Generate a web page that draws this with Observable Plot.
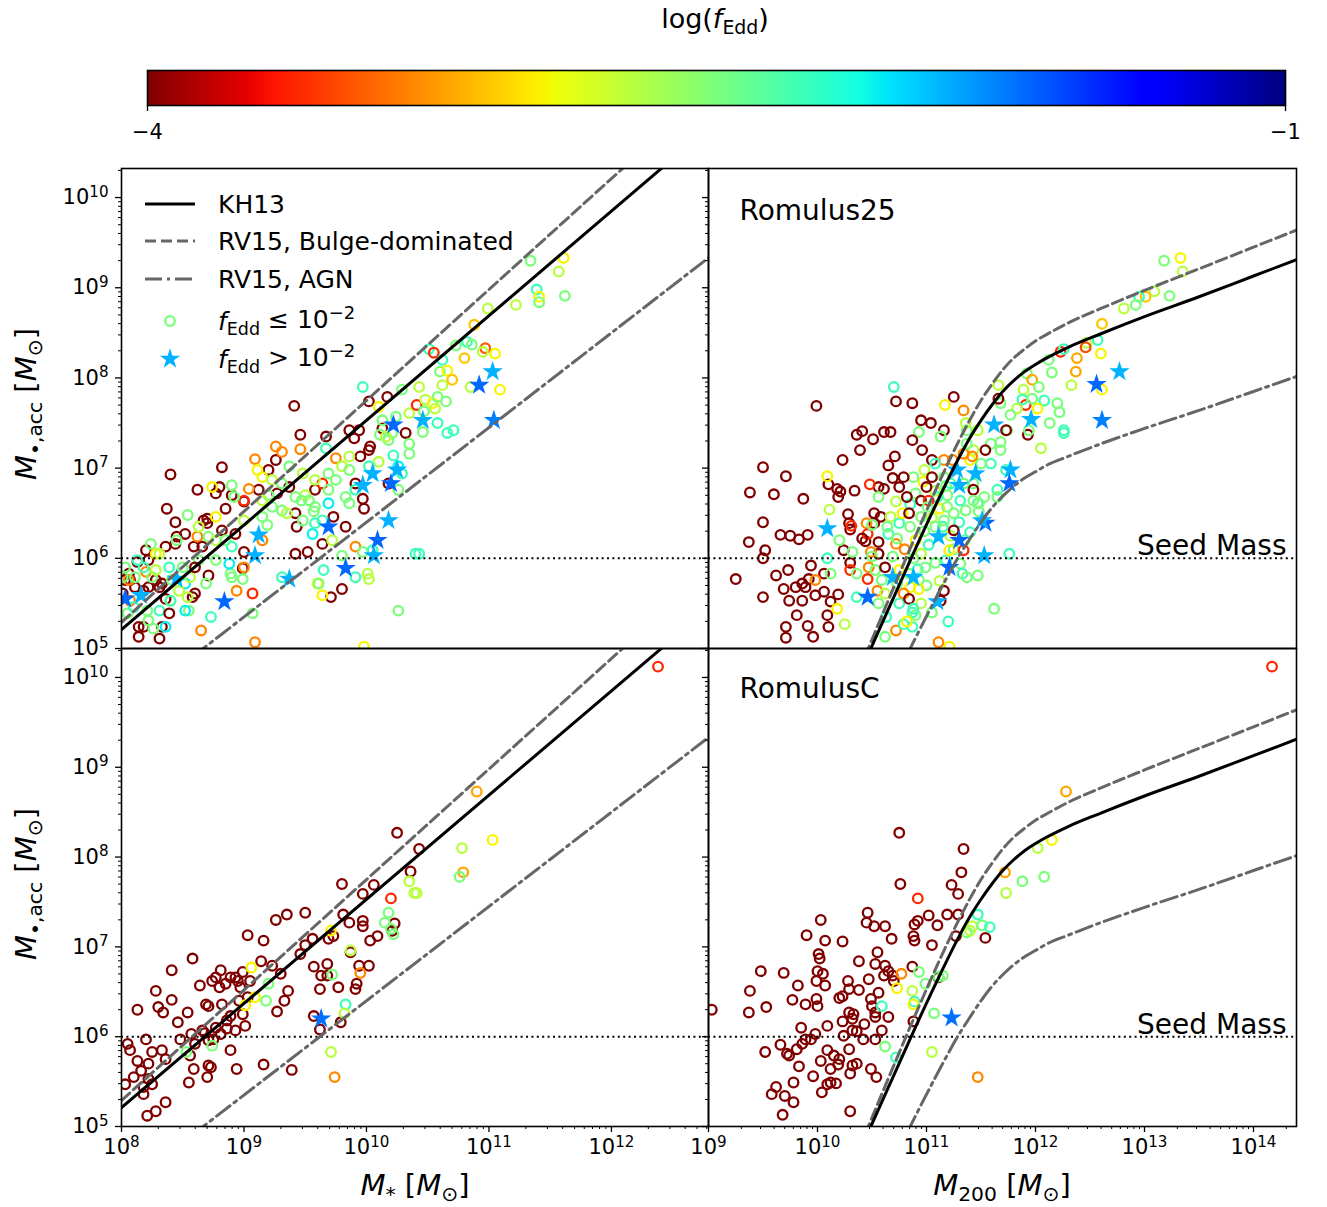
<!DOCTYPE html>
<html><head><meta charset="utf-8">
<script src="https://cdn.jsdelivr.net/npm/d3@7"></script>
<script src="https://cdn.jsdelivr.net/npm/@observablehq/plot@0.6"></script>
<style>
body{margin:0;background:#fff;font-family:"DejaVu Sans",sans-serif;}
#root{position:relative;width:1327px;height:1207px;overflow:hidden;background:#fff;}
.lbl{position:absolute;white-space:nowrap;color:#000;font-family:"DejaVu Sans",sans-serif;line-height:1;}
.lbl sub{font-size:0.7em;vertical-align:-0.3em;font-style:normal;}
.lbl i{font-style:italic;}
</style></head><body><div id="root"></div>
<script>
// ---------------- DATA (log10 values) ----------------
// Each point: [log10 x-mass, log10 M_BH,acc, log10 f_Edd]
const r25StellarPts = [
[9.41,7.69,-4],[8.40,6.93,-4],[9.46,7.37,-4],[8.82,7.01,-4],[8.62,6.76,-4],[8.77,6.72,-4],[8.37,6.55,-4],[8.44,6.40,-4],[8.70,6.44,-4],[8.52,6.27,-4],[8.45,6.24,-4],[8.20,6.09,-4],[8.22,5.98,-4],[8.13,5.96,-4],[8.36,6.13,-4],[9.43,6.35,-4],[9.42,6.50,-4],[9.64,6.16,-4],[9.52,6.07,-4],[9.73,6.46,-4],[9.83,6.35,-4],[9.91,6.83,-4],[9.98,6.55,-4],[10.03,7.24,-4],[9.94,7.42,-4],[10.02,7.74,-4],[10.17,7.79,-4],[10.32,7.39,-4],[10.18,6.83,-4],[9.97,6.66,-4],[9.58,6.76,-4],[9.26,7.09,-4],[9.20,6.98,-4],[9.12,6.76,-4],[9.00,6.63,-4],[8.85,6.55,-4],[8.82,6.31,-4],[8.70,6.39,-4],[9.00,6.07,-4],[8.99,5.89,-4],[8.71,5.81,-4],[8.60,5.61,-4],[8.58,5.57,-4],[8.36,5.55,-4],[8.31,5.68,-4],[8.22,5.68,-4],[8.18,5.64,-4],[8.07,5.76,-4],[8.06,5.83,-4],[9.80,5.66,-4],[9.71,5.57,-4],[8.14,5.24,-4],[8.18,5.24,-4],[8.31,5.11,-4],[8.33,5.24,-4],[8.14,5.13,-4],[9.42,6.05,-4],[9.37,6.79,-4],[9.27,6.72,-4],[9.67,7.35,-4],[9.86,7.42,-4],[9.90,7.33,-4],[9.95,7.13,-4],[10.02,7.20,-4],[10.13,7.44,-4],[8.90,6.70,-4],[8.80,6.79,-4],[8.67,6.42,-4],[8.44,6.16,-4],[8.28,5.76,-4],[8.11,5.68,-4],[8.03,5.76,-4],[8.59,6.13,-4],
[9.09,7.10,-3.3],[9.46,7.21,-3.3],[9.31,7.18,-3.3],[9.11,6.98,-2.95],[9.15,6.90,-2.95],[9.04,6.77,-3.3],[9.00,6.64,-3.6],[8.74,6.79,-2.95],[8.77,6.46,-2.95],[8.62,6.24,-3.3],[9.15,6.20,-3.3],[8.28,6.05,-2.95],[8.20,5.85,-3.3],[8.06,5.76,-3.3],[8.94,5.64,-3.3],[9.07,5.61,-3.6],[8.65,5.20,-3.3],[9.09,5.07,-3.3],[9.91,6.13,-3.3],[9.64,6.83,-3.6],[9.75,7.11,-3.3],[10.10,7.68,-2.95],[9.00,5.90,-3.3],[9.64,5.59,-2.95],[9.60,5.72,-2.95],[9.98,5.02,-2.95],[8.40,5.53,-2.95],
[8.90,6.81,-2.5],[8.92,6.68,-2.5],[8.54,6.48,-2.5],[8.63,6.35,-2.72],[8.45,6.20,-2.5],[8.24,6.16,-2.5],[8.31,6.05,-2.72],[8.13,5.98,-2.28],[8.03,5.90,-2.5],[9.20,6.70,-2.5],[9.31,6.53,-2.5],[9.35,6.50,-2.72],[9.19,6.37,-2.5],[9.50,6.70,-2.72],[9.53,6.64,-2.5],[9.57,6.52,-2.5],[9.80,7.02,-2.72],[9.86,6.98,-2.5],[9.75,6.87,-2.5],[9.69,6.76,-2.5],[9.83,6.68,-2.5],[10.18,7.31,-2.5],[10.21,7.39,-2.5],[10.35,7.27,-2.5],[10.35,7.61,-2.72],[10.29,7.87,-2.5],[9.97,7.90,-2.28],[10.11,7.37,-2.5],[10.13,7.53,-2.5],[9.15,6.46,-2.5],[9.00,6.42,-2.72],[9.07,5.39,-2.5],[8.89,5.83,-2.5],[8.90,5.79,-2.5],[8.99,5.77,-2.5],[8.77,5.98,-2.5],[8.69,5.72,-2.5],[8.54,5.57,-2.72],[8.55,5.42,-2.5],[8.26,5.22,-2.5],[8.22,5.31,-2.5],[9.61,5.72,-2.5],[9.80,6.03,-2.5],[10.01,5.83,-2.72],[10.02,5.77,-2.72],[10.26,5.42,-2.5],[9.97,6.07,-2.5],[10.10,7.07,-2.72],[10.24,7.57,-2.5],[10.16,7.35,-2.72],[9.47,6.64,-2.5],[9.42,6.68,-2.5],[9.58,6.57,-2.5],[9.31,6.83,-2.5],[9.23,6.87,-2.72],[8.01,5.79,-2.5],
[9.67,7.22,-2.28],[9.56,6.27,-2.08],[9.69,6.61,-2.08],[9.64,6.42,-2.28],[9.91,6.76,-2.28],[10.22,7.14,-2.28],[10.29,6.94,-2.28],[10.26,7.02,-2.08],[8.88,5.94,-2.08],[9.31,5.79,-2.28],[9.65,5.87,-2.28],[9.91,5.79,-2.28],[8.73,5.35,-2.28],[8.52,5.42,-2.08],[8.36,5.24,-2.08],[8.40,5.53,-2.28],[8.52,5.72,-2.08],[10.40,6.05,-2.28],[10.05,6.09,-2.28],
[8.01,5.61,-4],[8.07,5.53,-3.3],[8.11,5.79,-2.5],[8.18,5.90,-2.28],[8.25,5.79,-2.5],[8.28,5.87,-2.72],[8.33,5.72,-4],[8.39,5.90,-2.28],[8.41,5.76,-2.5],[8.47,5.64,-2.72],[8.50,5.90,-2.5],[8.56,5.79,-2.72],[8.63,5.98,-2.5],[8.66,6.13,-4],[8.71,6.24,-2.5],[8.77,6.20,-2.72],[8.85,6.20,-2.5],[8.90,6.13,-2.28],[8.93,6.27,-4],[8.60,5.90,-4],[8.21,5.42,-2.5],[8.31,5.42,-2.28],[8.39,5.39,-4],[8.05,5.39,-2.5],[8.10,5.46,-2.28],
[9.26,7.24,-3.3],[9.37,7.02,-2.5],[9.48,6.94,-2.72],[9.58,6.87,-2.72],[9.69,6.94,-2.5],[9.86,7.13,-2.72],[10.02,7.02,-2.28],[10.35,7.16,-2.5],[10.26,6.76,-2.5],[9.48,6.42,-2.5],[9.58,6.39,-2.28],[9.72,6.20,-2.72],[9.86,6.61,-2.5],[9.23,6.57,-2.5],[9.15,6.64,-2.72],
[10.22,7.48,-1.68],[10.05,6.94,-1.9],[10.25,6.98,-1.9],[9.97,6.81,-1.9],[10.20,6.83,-1.68],[9.69,6.35,-1.68],[9.12,6.26,-1.9],[9.09,6.03,-1.9],[10.09,6.20,-1.68],[10.18,6.42,-1.9],[10.06,6.03,-1.9],[9.83,5.89,-1.68],[9.37,5.77,-1.9],[8.84,5.52,-1.68],[8.45,5.77,-1.9],[8.16,5.59,-1.9],[8.03,5.55,-1.68],
[11.34,9.30,-2.5],[11.61,9.33,-2.95],[11.57,9.18,-2.72],[11.39,8.98,-2.28],[11.41,8.90,-2.95],[11.41,8.84,-2.5],[11.22,8.81,-2.72],[11.62,8.91,-2.5],[10.99,8.77,-2.72],[10.88,8.59,-3.1],[10.73,8.36,-2.5],[10.82,8.40,-2.28],[10.86,8.37,-2.5],[10.51,8.32,-2.28],[10.55,8.28,-3.6],[10.62,8.20,-2.28],[10.97,8.33,-3.45],[10.95,8.29,-2.72],[11.05,8.27,-2.95],[10.80,8.22,-3.1],[10.60,8.07,-2.5],[10.66,8.08,-2.95],[10.70,7.98,-3.1],[10.62,7.92,-2.72],[11.09,7.87,-2.95],[10.85,7.90,-2.72],
[11.03,8.07,-1.9],[10.92,7.92,-1.68],[11.04,7.53,-1.75],
[10.41,7.70,-3.6],[10.43,7.90,-2.72],[10.48,7.76,-2.72],[10.54,7.72,-2.95],[10.56,7.66,-2.72],[10.58,7.79,-2.5],[10.65,7.74,-2.5],[10.47,7.63,-2.5],[10.46,7.53,-1.9],[10.58,7.50,-2.28],[10.66,7.39,-2.28],[10.71,7.42,-2.28],[10.46,7.40,-2.5],[10.43,6.05,-2.28]
];

const r25HaloPts = [
[9.99,7.69,-4],[10.72,7.74,-4],[10.36,7.37,-4],[10.41,7.41,-4],[10.51,7.32,-4],[10.61,7.40,-4],[10.67,7.40,-4],[10.39,7.20,-4],[10.71,7.13,-4],[10.23,7.09,-4],[10.65,7.03,-4],[9.50,7.01,-4],[9.71,6.91,-4],[9.38,6.73,-4],[9.60,6.71,-4],[9.87,6.66,-4],[10.10,6.82,-4],[10.18,6.77,-4],[10.21,6.74,-4],[10.34,6.75,-4],[10.19,6.68,-4],[10.28,6.49,-4],[10.56,6.79,-4],[10.61,6.77,-4],[10.69,6.89,-4],[10.75,6.79,-4],[10.52,6.50,-4],[10.58,6.46,-4],[10.52,6.39,-4],[9.50,6.40,-4],[9.66,6.26,-4],[9.75,6.25,-4],[9.83,6.21,-4],[9.91,6.26,-4],[9.37,6.18,-4],[9.52,6.09,-4],[9.50,6.00,-4],[10.29,6.39,-4],[10.30,6.32,-4],[10.24,6.09,-4],[10.44,6.19,-4],[10.56,6.05,-4],[10.30,5.95,-4],[9.25,5.77,-4],[9.50,5.57,-4],[9.62,5.81,-4],[9.73,5.87,-4],[9.69,5.66,-4],[9.80,5.68,-4],[9.86,5.72,-4],[9.92,5.77,-4],[9.89,5.68,-4],[9.94,5.92,-4],[10.06,5.83,-4],[9.74,5.53,-4],[9.86,5.53,-4],[9.98,5.59,-4],[10.06,5.63,-4],[10.12,5.52,-4],[10.19,5.60,-4],[9.81,5.37,-4],[10.09,5.37,-4],[9.71,5.24,-4],[9.91,5.25,-4],[10.10,5.24,-4],[9.71,5.12,-4],[9.96,5.13,-4],
[10.70,7.90,-2.28],[10.09,6.91,-2.95],[10.11,6.54,-2.72],[10.48,6.82,-3.6],[10.45,6.39,-3.3],[10.09,6.33,-1.9],[10.31,6.36,-3.6],[10.20,6.20,-2.5],[10.32,6.07,-2.5],[10.46,6.27,-3.6],[10.49,6.07,-3.3],[10.50,6.02,-2.5],[10.09,6.00,-2.28],[10.12,5.83,-2.5],[10.30,5.87,-3.6],[10.36,5.83,-2.5],[9.98,5.76,-3.3],[10.18,5.44,-2.95],[10.25,5.27,-2.72],[10.36,5.57,-2.28],[10.46,5.77,-3.6],[10.47,5.90,-3.3],[10.46,5.57,-1.68],[10.55,5.64,-3.3],[10.59,5.76,-2.5],[10.69,5.79,-1.9],[10.56,5.50,-2.5],[10.63,5.35,-2.28],[10.62,5.13,-2.5],[10.72,5.20,-3.3],[10.79,5.27,-2.28],[10.87,5.40,-2.28],[10.87,5.24,-2.28],[10.69,6.02,-2.5],[10.72,6.16,-3.3],[10.65,6.27,-2.28],[10.73,6.22,-2.5],[10.67,6.46,-2.72],[10.56,6.68,-2.5],[10.72,6.63,-2.72],[11.11,5.07,-3.3],[11.21,5.02,-2.95],[10.90,5.37,-2.5],
[10.53,5.87,-2.5],[10.62,5.61,-2.72],[10.75,5.50,-2.28],[10.73,5.72,-2.5],[10.75,5.87,-2.95],[10.62,5.90,-4],[10.56,6.18,-4],[10.64,6.35,-2.5],[10.75,6.39,-2.28],[10.50,6.37,-2.5],[10.41,6.22,-4],
[11.05,6.45,-2.72],[11.12,6.55,-2.95],[10.98,6.30,-2.5],[11.02,6.15,-2.28],[10.95,6.05,-2.72],[11.08,5.95,-2.5],[11.18,5.98,-2.28],[11.25,6.10,-2.5],[10.90,6.20,-2.95],[10.85,6.35,-2.5],[10.80,6.10,-3.3],[10.92,5.88,-2.28],[11.00,5.70,-2.5],[11.12,5.75,-2.72],[10.97,6.85,-2.95],[11.08,6.75,-2.72],[11.18,6.80,-2.5],[10.85,6.60,-2.28],[10.78,6.50,-2.95],[11.22,6.25,-2.72],[10.88,6.00,-2.5],[11.30,6.40,-2.28],[11.35,6.20,-2.5],[11.15,6.35,-2.28],[10.95,5.50,-2.72],[11.05,5.40,-2.5],[10.82,5.30,-2.95],[11.20,5.30,-2.28],
[13.18,9.30,-2.5],[13.33,9.33,-2.95],[13.35,9.18,-2.72],[13.09,8.96,-2.72],[13.01,8.90,-3.1],[12.95,8.90,-2.28],[12.92,8.81,-2.5],[13.23,8.91,-2.5],[12.81,8.77,-2.72],[12.61,8.60,-3.1],[12.57,8.42,-2.28],[12.47,8.39,-2.72],[12.46,8.34,-3.5],[12.23,8.29,-3.6],[12.26,8.32,-2.28],[12.12,8.20,-2.5],[12.15,8.06,-2.5],[12.38,8.22,-3.2],[12.37,8.07,-3.2],[12.60,8.27,-2.95],[12.33,7.92,-2.72],
[12.77,8.07,-1.9],[12.56,7.93,-1.68],[12.61,7.53,-1.75],
[12.61,7.87,-2.95],[11.92,8.05,-2.5],[11.97,7.98,-3.2],[11.89,7.87,-2.72],[12.03,7.90,-2.5],[12.08,7.75,-2.28],[12.20,7.72,-2.5],[12.22,7.62,-2.5],[12.13,7.50,-2.5],[12.26,7.42,-2.28],[12.26,7.39,-2.28],[12.05,7.22,-2.72],[11.91,7.70,-3.6],[11.88,7.76,-2.28],[11.97,7.77,-2.5],[12.02,7.66,-2.95],
[11.96,7.54,-1.9],
[11.93,7.37,-4],[11.94,7.42,-2.5],[11.83,7.66,-2.72],[11.77,7.59,-2.5],[11.68,7.72,-2.5],[11.66,7.92,-2.72],[11.74,7.42,-2.5],[11.73,7.42,-4],[11.66,7.77,-4],
[11.62,7.48,-1.9],
[11.68,7.29,-2.5],[11.59,7.27,-2.5],[11.68,7.20,-2.5],[11.73,6.98,-2.28],
[11.77,6.98,-1.9],[11.76,6.83,-1.68],
[11.65,6.76,-2.28],[11.65,6.68,-2.5],[11.53,6.68,-2.5],[11.47,6.61,-2.28],[11.43,6.83,-2.5],[11.59,7.05,-2.28],[11.50,7.05,-2.5],
[11.45,6.94,-1.9],
[11.54,7.20,-4],[11.43,7.20,-2.72],[11.40,7.09,-2.95],[11.42,7.13,-3.3],[11.34,7.16,-3.3],[11.37,7.27,-2.5],[11.47,7.42,-2.72],[11.37,7.42,-2.5],[11.36,7.50,-2.72],[11.34,7.64,-3.3],[11.25,7.79,-4],[11.17,7.70,-2.95],[10.87,7.72,-4],[10.95,7.53,-4],[11.04,7.50,-4],[11.16,7.42,-4],[10.93,7.40,-2.5],[11.13,7.35,-2.5],[10.87,7.31,-4],[10.96,7.20,-4],[11.05,7.09,-4],[11.16,7.09,-3.3],[11.24,7.09,-3.3],[11.08,7.05,-2.28],[10.98,6.98,-2.72],[10.88,6.90,-2.5],[10.79,6.90,-4],[11.05,6.90,-4],[11.16,6.90,-2.5],
[11.28,6.98,-1.9],
[11.34,6.83,-2.5],[11.22,6.83,-2.28],
[11.30,6.81,-1.9],
[11.00,6.79,-4],[10.90,6.72,-2.5],[11.19,6.70,-2.5],[11.10,6.68,-2.28],[11.31,6.64,-2.28],[11.43,6.76,-4],[11.43,6.64,-2.5],[10.82,6.68,-4],[10.95,6.64,-4],[11.02,6.64,-3.6],[11.01,6.57,-2.5],[11.19,6.57,-2.5],[11.25,6.50,-2.5],[11.36,6.53,-2.5],[10.84,6.50,-4],[10.95,6.46,-2.5],[11.16,6.42,-2.5],[11.08,6.35,-2.5],[11.25,6.31,-4],[11.48,6.61,-2.5],[11.40,6.29,-2.28],
[11.54,6.39,-1.68],[11.51,6.42,-1.9],
[11.48,6.52,-2.5],
[11.11,6.24,-1.9],[11.30,6.20,-1.68],
[11.21,6.09,-2.95],[11.34,6.09,-3.6],
[11.53,6.03,-1.9],
[11.76,6.05,-2.28],[11.31,5.94,-2.5],
[11.21,5.90,-1.68],
[11.33,5.83,-2.28],[11.37,5.79,-2.5],[11.47,5.81,-2.5],
[10.88,5.79,-1.9],
[10.93,5.76,-2.5],[10.99,5.90,-2.5],[10.84,5.83,-2.5],[10.85,5.68,-2.95],[10.93,5.66,-2.95],[10.79,5.61,-3.3],[11.16,5.64,-4],[11.13,5.53,-4],[10.84,5.55,-4],
[11.10,5.52,-1.9],
[11.62,5.44,-2.5],[10.88,5.44,-2.28]
];

const rcStellarPts = [
[9.80,7.70,-4],[10.06,7.69,-4],[9.97,7.59,-4],[9.81,7.36,-4],[9.86,7.27,-4],[9.97,7.29,-4],[9.97,7.23,-4],[10.23,7.26,-4],[10.21,7.18,-4],[10.09,7.12,-4],[10.03,7.07,-4],[10.36,7.84,-4],[9.73,7.12,-4],[9.69,7.09,-4],[9.56,7.09,-4],[9.50,7.02,-4],[9.46,6.92,-4],[9.35,7.36,-4],[9.50,7.38,-4],[9.26,7.30,-4],[9.03,7.13,-4],[9.16,7.07,-4],[8.58,6.87,-4],[8.41,6.74,-4],[8.28,6.51,-4],[8.30,6.33,-4],[8.34,6.27,-4],[8.41,6.41,-4],[8.13,6.30,-4],[8.46,6.16,-4],[8.54,6.27,-4],[8.64,6.57,-4],[8.69,6.36,-4],[8.71,6.34,-4],[8.74,6.62,-4],[8.77,6.66,-4],[8.81,6.74,-4],[8.80,6.55,-4],[8.85,6.59,-4],[8.89,6.66,-4],[8.93,6.66,-4],[8.95,6.62,-4],[8.99,6.72,-4],[9.05,6.62,-4],[9.14,6.84,-4],[9.23,6.79,-4],[9.30,6.70,-4],[9.36,6.51,-4],[9.33,6.40,-4],[9.27,6.28,-4],[9.03,6.44,-4],[8.97,6.55,-4],[8.96,6.40,-4],[8.99,6.25,-4],[8.89,6.23,-4],[8.86,6.18,-4],[8.82,6.36,-4],[8.77,6.10,-4],[8.86,6.09,-4],[8.93,6.07,-4],[8.89,5.85,-4],[9.01,6.12,-4],[8.81,6.03,-4],[8.68,6.04,-4],[8.66,6.07,-4],[8.57,6.03,-4],[8.48,5.97,-4],[8.60,5.92,-4],[8.56,5.79,-4],[8.71,5.96,-4],[8.75,5.97,-4],[8.20,5.97,-4],[8.05,5.92,-4],[8.07,5.85,-4],[8.13,5.73,-4],[8.25,5.83,-4],[8.33,5.85,-4],[8.22,5.70,-4],[8.16,5.62,-4],[8.10,5.55,-4],[8.03,5.47,-4],[8.18,5.44,-4],[8.22,5.53,-4],[8.25,5.47,-4],[8.36,5.75,-4],[8.59,5.64,-4],[8.55,5.49,-4],[8.71,5.68,-4],[8.73,5.66,-4],[8.70,5.55,-4],[8.94,5.64,-4],[9.16,5.69,-4],[9.39,5.63,-4],[8.21,5.12,-4],[8.28,5.17,-4],[8.36,5.27,-4],[8.18,5.36,-4],[9.57,6.78,-4],[9.68,6.81,-4],[9.63,6.68,-4],[9.68,6.68,-4],[9.62,6.53,-4],[9.77,6.55,-4],[9.91,6.53,-4],[9.92,6.59,-4],[10.02,6.79,-4],[9.94,6.79,-4],[9.87,6.94,-4],[9.57,6.23,-4],[9.79,6.16,-4],[9.62,6.08,-4],[10.25,8.27,-4],[10.43,8.09,-4],
[10.18,7.38,-2.5],[10.15,7.27,-2.5],[10.20,7.20,-2.5],[10.22,7.14,-2.5],[10.20,7.54,-3.6],[10.35,7.73,-2.72],[10.39,7.60,-2.72],[9.71,7.18,-2.95],[9.06,6.77,-2.95],[9.20,6.59,-2.5],[9.18,6.40,-2.5],[9.09,6.44,-2.95],[9.01,6.35,-2.95],[8.53,5.83,-2.5],[8.74,5.90,-2.5],[9.72,6.69,-2.5],[9.87,6.96,-2.72],[9.95,6.71,-3.3],[9.83,6.36,-2.28],[9.82,6.26,-2.72],[9.71,5.83,-2.72],[9.74,5.55,-3.3],
[9.63,6.20,-1.7],
[12.38,10.12,-3.6],[10.90,8.73,-3.2],[11.03,8.19,-2.95],[10.78,8.10,-2.72],[10.79,7.83,-3.2],[10.76,7.78,-2.5],[10.41,7.60,-2.72]
];

const rcHaloPts = [
[10.75,8.27,-4],[10.76,7.70,-4],[11.23,7.69,-4],[11.29,7.59,-4],[11.32,7.83,-4],[11.34,8.09,-4],[11.19,7.36,-4],[11.29,7.36,-4],[11.10,7.24,-4],[11.02,7.35,-4],[10.89,7.25,-4],[10.92,7.29,-4],[10.88,7.12,-4],[10.89,7.07,-4],[11.05,7.02,-4],[11.27,7.12,-4],[10.46,7.38,-4],[10.45,7.27,-4],[10.52,7.23,-4],[10.62,7.23,-4],[10.68,7.09,-4],[10.03,7.30,-4],[9.90,7.13,-4],[10.07,7.07,-4],[10.23,7.06,-4],[10.01,6.92,-4],[10.02,6.87,-4],[10.38,6.84,-4],[10.55,6.94,-4],[10.53,6.81,-4],[10.62,6.79,-4],[10.65,6.73,-4],[10.61,6.68,-4],[10.69,6.68,-4],[10.70,6.62,-4],[10.87,6.78,-4],[11.11,6.66,-4],[9.48,6.73,-4],[9.69,6.71,-4],[9.82,6.57,-4],[10.00,6.73,-4],[10.05,6.70,-4],[9.99,6.62,-4],[10.07,6.57,-4],[10.28,6.62,-4],[10.38,6.52,-4],[10.29,6.53,-4],[10.47,6.64,-4],[10.56,6.49,-4],[10.23,6.45,-4],[10.20,6.43,-4],[9.38,6.51,-4],[9.53,6.33,-4],[9.37,6.27,-4],[9.77,6.41,-4],[9.89,6.36,-4],[9.99,6.42,-4],[10.00,6.34,-4],[9.03,6.30,-4],[10.49,6.42,-4],[10.50,6.34,-4],[10.29,6.27,-4],[10.33,6.25,-4],[10.32,6.20,-4],[10.53,6.27,-4],[10.53,6.22,-4],[10.65,6.22,-4],[10.43,6.14,-4],[10.23,6.17,-4],[10.09,6.12,-4],[9.85,6.10,-4],[9.89,5.97,-4],[9.98,6.03,-4],[10.24,6.01,-4],[10.32,6.07,-4],[10.36,6.06,-4],[10.42,5.97,-4],[10.53,5.97,-4],[10.59,6.07,-4],[10.88,6.17,-4],[9.66,5.91,-4],[9.52,5.83,-4],[9.72,5.81,-4],[9.74,5.79,-4],[9.81,5.86,-4],[9.86,5.92,-4],[9.94,5.97,-4],[10.09,5.85,-4],[10.15,5.79,-4],[10.20,5.75,-4],[10.29,5.86,-4],[10.03,5.73,-4],[9.83,5.67,-4],[9.78,5.49,-4],[9.96,5.56,-4],[10.12,5.64,-4],[10.19,5.69,-4],[10.32,5.68,-4],[10.36,5.70,-4],[10.30,5.59,-4],[10.49,5.64,-4],[10.54,5.55,-4],[10.09,5.47,-4],[10.12,5.49,-4],[10.17,5.48,-4],[10.04,5.38,-4],[9.62,5.44,-4],[9.58,5.36,-4],[9.70,5.34,-4],[9.78,5.27,-4],[9.68,5.13,-4],[10.30,5.17,-4],[11.54,7.10,-4],
[10.92,7.54,-3.6],[10.77,6.70,-3.3],[10.93,6.72,-2.5],[10.99,6.59,-2.5],[11.11,6.67,-2.5],[11.15,6.68,-2.5],[10.73,6.54,-2.95],[10.87,6.51,-2.72],[10.89,6.39,-2.28],[10.88,6.36,-2.95],[10.59,6.34,-2.28],[11.07,6.26,-2.5],[10.62,5.89,-2.5],[10.72,5.77,-2.28],[11.05,5.83,-2.72],
[11.23,6.21,-1.7],
[14.17,10.12,-3.6],[12.28,8.73,-3.2],[12.15,8.19,-2.95],[12.02,8.10,-2.72],[11.72,7.83,-3.2],[11.73,7.60,-2.72],[11.88,7.73,-2.5],[12.08,7.78,-2.5],[11.47,7.36,-2.28],[11.42,7.23,-2.72],[11.51,7.24,-2.5],[11.58,7.22,-2.28],[11.37,7.16,-2.5],[11.40,7.18,-2.72],[11.47,5.55,-3.3]
];

// Scaling relations (log10 values)
const kh13Stellar = [[8, 5.21], [13, 11.01]];
const rv15BulgeStellar = [[8, 5.29], [13, 11.44]];
const rv15AgnStellar = [[8, 4.30], [13, 9.55]];
const haloGrid = [10.1,10.3,10.5,10.7,10.9,11.1,11.3,11.4,11.5,11.6,11.7,11.8,11.9,12.0,12.1,12.3,12.6,13.0,13.5,14.0,14.5];
const kh13Halo = [3.93,4.48,5.03,5.57,6.11,6.63,7.12,7.34,7.53,7.70,7.85,7.97,8.07,8.15,8.22,8.34,8.49,8.68,8.90,9.13,9.36];
const rv15BulgeHalo = [3.93,4.52,5.10,5.68,6.25,6.80,7.31,7.54,7.75,7.93,8.09,8.22,8.32,8.41,8.48,8.61,8.77,8.97,9.21,9.45,9.69];
const rv15AgnHalo = [3.14,3.64,4.14,4.63,5.12,5.59,6.03,6.22,6.40,6.56,6.69,6.80,6.89,6.96,7.03,7.13,7.27,7.44,7.64,7.85,8.06];

const seedMass = 1e6;
const yTickExps = [5, 6, 7, 8, 9, 10];
const stellarTickExps = [8, 9, 10, 11, 12];
const haloTickExps = [9, 10, 11, 12, 13, 14];
const colorbarTicks = [-4, -1];
const fEddDomain = [-4, -1];
const fEddSplit = -2;
const panelNames = ["Romulus25", "RomulusC"];

// ---------------- helpers ----------------
function jetR(t) {
  const s = 1 - Math.max(0, Math.min(1, t));
  const seg = (p) => { for (let i = 1; i < p.length; i++) if (s <= p[i][0]) { const [x0,y0] = p[i-1], [x1,y1] = p[i]; return y0 + (y1 - y0) * (s - x0) / (x1 - x0); } return p[p.length-1][1]; };
  const r = seg([[0,0],[0.35,0],[0.66,1],[0.89,1],[1,0.5]]);
  const g = seg([[0,0],[0.125,0],[0.375,1],[0.64,1],[0.91,0],[1,0]]);
  const b = seg([[0,0.5],[0.11,1],[0.34,1],[0.65,0],[1,0]]);
  return d3.rgb(r * 255, g * 255, b * 255).formatHex();
}
const colorOpts = {type: "linear", domain: fEddDomain, interpolate: jetR, clamp: true};
const Y_DOMAIN = [1e5, 2.1e10];
const STELLAR_DOMAIN = [1e8, 6.2e12];
const HALO_DOMAIN = [1e9, 2.48e14];
const supFmt = d => "10^" + Math.round(Math.log10(d));
function minorTicks(a, b, dom) {
  const out = [];
  for (let k = a; k <= b; k++) for (let m = 2; m <= 9; m++) { const v = m * 10 ** k; if (v >= dom[0] && v <= dom[1]) out.push(v); }
  return out;
}
const GRAY = "#666666";
const NS = "http://www.w3.org/2000/svg";
function supify(svg) {
  svg.querySelectorAll("text").forEach(t => {
    const m = /^10\^(-?\d+)$/.exec(t.textContent);
    if (!m) return;
    t.textContent = "";
    const a = document.createElementNS(NS, "tspan"); a.textContent = "10";
    const b = document.createElementNS(NS, "tspan"); b.textContent = m[1];
    b.setAttribute("dy", "-0.5em"); b.setAttribute("font-size", "0.72em");
    t.append(a, b);
  });
}
const root = document.getElementById("root");
function place(el, left, top) {
  el.style.position = "absolute"; el.style.left = left + "px"; el.style.top = top + "px";
  el.style.overflow = "visible"; el.style.background = "transparent"; el.style.maxWidth = "none";
  el.style.fontFamily = "'DejaVu Sans', sans-serif";
  root.appendChild(el);
}

function panel(cfg) {
  const X = d => 10 ** d[0], Yv = d => 10 ** d[1];
  const circles = cfg.pts.filter(d => d[2] <= fEddSplit);
  const stars = cfg.pts.filter(d => d[2] > fEddSplit);
  const lineOpts = (stroke, dash) => ({x: X, y: Yv, stroke, strokeWidth: 3, strokeDasharray: dash, clip: true, curve: cfg.curve});
  const marks = [
    Plot.dot(circles, {x: X, y: Yv, stroke: d => d[2], r: 4.8, strokeWidth: 2.3, fill: "none", clip: true}),
    Plot.dot(stars, {x: X, y: Yv, fill: d => d[2], symbol: "star", r: 6.4, stroke: "none", clip: true}),
    Plot.ruleY([seedMass], {stroke: "black", strokeWidth: 2, strokeDasharray: "2,3.4"}),
    Plot.line(cfg.lines[1], lineOpts(GRAY, "11,5")),
    Plot.line(cfg.lines[2], lineOpts(GRAY, "17,5,3,5")),
    Plot.line(cfg.lines[0], lineOpts("black", null)),
    Plot.frame({stroke: "black", strokeWidth: 1.6}),
    Plot.axisY(yTickExps.map(e => 10 ** e), {anchor: "left", tickSize: 6, tickPadding: 7, fontSize: 21, strokeWidth: 1.3, label: null, tickFormat: cfg.yLabels ? supFmt : () => ""}),
    Plot.axisY(minorTicks(4, 10, Y_DOMAIN), {anchor: "left", tickSize: 3, strokeWidth: 1, label: null, tickFormat: () => ""})
  ];
  if (cfg.xAxis) {
    marks.push(
      Plot.axisX(cfg.xExps.map(e => 10 ** e), {anchor: "bottom", tickSize: 6, tickPadding: 7, fontSize: 21, strokeWidth: 1.3, label: null, tickFormat: supFmt}),
      Plot.axisX(minorTicks(cfg.xExps[0] - 1, cfg.xExps[cfg.xExps.length - 1] + 1, cfg.xDomain), {anchor: "bottom", tickSize: 3, strokeWidth: 1, label: null, tickFormat: () => ""})
    );
  }
  if (cfg.name) {
    marks.push(Plot.text([cfg.name], {frameAnchor: "top-left", textAnchor: "start", lineAnchor: "middle", dx: 31, dy: cfg.nameDy, fontSize: 28, fill: "black"}));
    marks.push(Plot.text([seedMass], {y: d => d, frameAnchor: "right", text: () => "Seed Mass", textAnchor: "end", lineAnchor: "middle", dx: -10, dy: -12, fontSize: 28, fill: "black"}));
  }
  const el = Plot.plot({
    width: cfg.w, height: cfg.h,
    marginLeft: cfg.ml, marginRight: cfg.mr, marginTop: cfg.mt, marginBottom: cfg.mb,
    x: {type: "log", domain: cfg.xDomain, ...(cfg.xAxis ? {} : {axis: null})},
    y: {type: "log", domain: Y_DOMAIN},
    color: colorOpts,
    style: {background: "transparent", overflow: "visible", fontFamily: "'DejaVu Sans', sans-serif"},
    marks
  });
  supify(el);
  place(el, cfg.left, cfg.top);
}

const stellarLines = [kh13Stellar, rv15BulgeStellar, rv15AgnStellar];
const haloLines = [kh13Halo, rv15BulgeHalo, rv15AgnHalo].map(arr => haloGrid.map((g, i) => [g, arr[i]]));

panel({pts: r25StellarPts, lines: stellarLines, xDomain: STELLAR_DOMAIN, xExps: stellarTickExps, xAxis: false, yLabels: true,
  w: 708, h: 488, ml: 121, mr: 0, mt: 8, mb: 0, left: 0, top: 160, curve: "linear"});
panel({pts: r25HaloPts, lines: haloLines, xDomain: HALO_DOMAIN, xExps: haloTickExps, xAxis: false, yLabels: false,
  w: 588, h: 488, ml: 0, mr: 0, mt: 8, mb: 0, left: 708, top: 160, curve: "monotone-x", name: panelNames[0], nameDy: 43});
panel({pts: rcStellarPts, lines: stellarLines, xDomain: STELLAR_DOMAIN, xExps: stellarTickExps, xAxis: true, yLabels: true,
  w: 708, h: 559, ml: 121, mr: 0, mt: 0, mb: 81, left: 0, top: 648, curve: "linear"});
panel({pts: rcHaloPts, lines: haloLines, xDomain: HALO_DOMAIN, xExps: haloTickExps, xAxis: true, yLabels: false,
  w: 619, h: 559, ml: 0, mr: 31, mt: 0, mb: 81, left: 708, top: 648, curve: "monotone-x", name: panelNames[1], nameDy: 41});

// ---------------- colorbar ----------------
const cbN = 600, cbStep = 3 / cbN;
const cbStops = d3.range(cbN).map(i => fEddDomain[0] + i * cbStep);
const cb = Plot.plot({
  width: 1327, height: 150, marginLeft: 147, marginRight: 42, marginTop: 70, marginBottom: 45,
  x: {domain: fEddDomain},
  y: {domain: [0, 1], axis: null},
  color: colorOpts,
  style: {background: "transparent", overflow: "visible"},
  marks: [
    Plot.rect(cbStops, {x1: d => d, x2: d => Math.min(d + cbStep * 1.6, fEddDomain[1]), y1: 0, y2: 1, fill: d => d + cbStep / 2}),
    Plot.frame({stroke: "black", strokeWidth: 1.6}),
    Plot.axisX(colorbarTicks, {anchor: "bottom", tickSize: 6, tickPadding: 13, fontSize: 21, strokeWidth: 1.3, label: null, tickFormat: d => (d < 0 ? "\u2212" : "") + Math.abs(d)})
  ]
});
place(cb, 0, 0);

// ---------------- HTML labels ----------------
function label(html, x, y, size, rotate) {
  const d = document.createElement("div");
  d.className = "lbl";
  d.innerHTML = html;
  d.style.fontSize = size + "px";
  d.style.left = x + "px"; d.style.top = y + "px";
  d.style.transform = "translate(-50%,-50%)" + (rotate ? " rotate(-90deg)" : "");
  root.appendChild(d);
}
label("log(<i>f</i><sub>Edd</sub>)", 715, 21, 27);
const yLab = "<i>M</i><sub>\u2022,acc</sub> [<i>M</i><sub>\u2299</sub>]";
label(yLab, 29, 404, 29, true);
label(yLab, 29, 884, 29, true);
label("<i>M</i><sub>*</sub> [<i>M</i><sub>\u2299</sub>]", 415, 1188, 29);
label("<i>M</i><sub>200</sub> [<i>M</i><sub>\u2299</sub>]", 1002, 1188, 29);

// ---------------- legend (top-left panel) ----------------
const lg = d3.create("svg").attr("width", 1327).attr("height", 1207)
  .style("position", "absolute").style("left", "0px").style("top", "0px").style("pointer-events", "none")
  .attr("font-family", "'DejaVu Sans', sans-serif").attr("font-size", 25);
const legendRows = [
  {kind: "line", stroke: "black", dash: null, y: 204, text: "KH13"},
  {kind: "line", stroke: GRAY, dash: "11,5", y: 241, text: "RV15, Bulge-dominated"},
  {kind: "line", stroke: GRAY, dash: "17,5,3,5", y: 279, text: "RV15, AGN"},
  {kind: "circle", y: 321, op: "\u2264"},
  {kind: "star", y: 359, op: ">"}
];
for (const r of legendRows) {
  if (r.kind === "line") {
    lg.append("line").attr("x1", 145).attr("x2", 195).attr("y1", r.y).attr("y2", r.y)
      .attr("stroke", r.stroke).attr("stroke-width", 3).attr("stroke-dasharray", r.dash);
  } else if (r.kind === "circle") {
    lg.append("circle").attr("cx", 170).attr("cy", r.y).attr("r", 4.8).attr("fill", "none")
      .attr("stroke", jetR(0.5)).attr("stroke-width", 2.3);
  } else {
    lg.append("path").attr("d", d3.symbol(d3.symbolStar, Math.PI * 6.4 * 6.4)()).attr("transform", `translate(170,${r.y})`)
      .attr("fill", jetR((-1.9 + 4) / 3));
  }
  const t = lg.append("text").attr("x", 218).attr("y", r.y).attr("dy", "0.36em").attr("fill", "black");
  if (r.text) t.text(r.text);
  else {
    t.append("tspan").attr("font-style", "italic").text("f");
    t.append("tspan").attr("font-size", "0.7em").attr("dy", "0.3em").text("Edd");
    t.append("tspan").attr("dy", "-0.3em").text(" " + r.op + " 10");
    t.append("tspan").attr("font-size", "0.72em").attr("dy", "-0.5em").text("\u22122");
  }
}
root.appendChild(lg.node());
</script></body></html>
